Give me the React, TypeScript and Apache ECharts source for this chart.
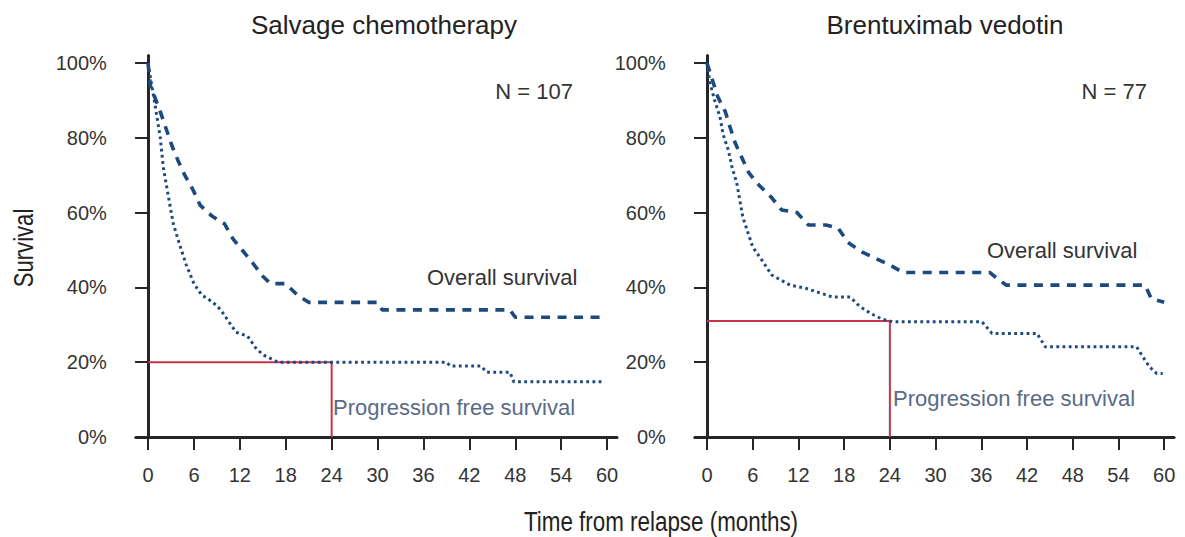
import React, { useEffect, useRef } from "react";
import * as echarts from "echarts";

// ---- data (months, survival %) ----
const xTicks = [0, 6, 12, 18, 24, 30, 36, 42, 48, 54, 60];
const yTicks = [0, 20, 40, 60, 80, 100];

const leftOS: number[][] = [
  [0, 100], [0.3, 94], [1.6, 87], [3.1, 78], [3.9, 74], [4.8, 70], [5.9, 66], [6.8, 62],
  [8.4, 59], [10, 57], [11.1, 53], [12.3, 50], [13.5, 47], [15, 43], [16, 41], [18, 41],
  [19.5, 38], [21, 36], [30, 36], [30.6, 34], [47.3, 34], [48, 32], [60, 32],
];
const leftPFS: number[][] = [
  [0, 100], [0.4, 95], [0.9, 89], [1.6, 80], [2, 72], [2.6, 65], [3.3, 57], [4.2, 51],
  [5, 46], [6, 41], [7, 38], [8.5, 36], [9.5, 34], [10.5, 31], [11.5, 28], [13, 27],
  [14, 24], [15, 22], [16, 21], [17, 20], [39, 20], [39.5, 19], [43.5, 19], [44.3, 17.3],
  [47.3, 17.3], [47.8, 14.8], [59.5, 14.8],
];
const rightOS: number[][] = [
  [0, 100], [0.7, 95.5], [1.4, 91], [2.4, 87], [3, 83], [3.7, 78.6], [4.6, 74.6], [5.5, 70.6],
  [6.8, 67.4], [8.4, 64.2], [9.8, 60.7], [11.8, 60], [13.3, 56.7], [15.6, 56.7], [17.2, 55.9],
  [18.5, 52], [20.3, 49.5], [22, 47.9], [24, 46], [25.7, 44], [37.1, 44], [38.3, 42],
  [39.3, 40.6], [57.5, 40.6], [58.3, 37], [60, 36],
];
const rightPFS: number[][] = [
  [0, 100], [0.4, 94.6], [1, 90], [1.7, 85.6], [2.1, 81], [2.8, 76.7], [3.3, 72], [3.9, 68],
  [4.3, 63.4], [4.7, 58.8], [5.4, 54.5], [6, 50.8], [7.2, 47.3], [8.5, 43.3], [10.9, 40.6],
  [12.9, 39.8], [14.4, 38.8], [16.5, 37.4], [18.8, 37.4], [20, 35], [21.5, 33], [23, 31.5],
  [24.4, 30.8], [36.1, 30.8], [37.4, 27.7], [43.3, 27.7], [44.4, 24.1], [56.4, 24.1],
  [57.2, 21.4], [58.1, 18.7], [59, 17], [59.8, 17],
];
const leftMarker = { month: 24, pfs: 20 };
const rightMarker = { month: 24, pfs: 31 };

const titles = ["Salvage chemotherapy", "Brentuximab vedotin"];
const nLabels = ["N = 107", "N = 77"];

const NAVY = "#1d4a7e";
const RED = "#c4354c";
const AXIS = "#262626";
const SANS = "'Liberation Sans', Arial, Helvetica, sans-serif";

export default function App() {
  const ref = useRef<HTMLDivElement>(null);
  useEffect(() => {
    document.body.style.margin = "0";
    const chart = echarts.init(ref.current!, null, { renderer: "svg" });

    const grids = [
      { left: 135.8, top: 55.5, width: 481.2, height: 381.5 },
      { left: 694.8, top: 55.5, width: 479.3, height: 381.5 },
    ];
    const mkX = (i: number) => ({
      type: "value",
      gridIndex: i,
      min: -1.6,
      max: 61.3,
      axisLine: { onZero: true, lineStyle: { color: AXIS, width: 3 } },
      axisTick: { show: true, customValues: xTicks, length: 13, lineStyle: { color: AXIS, width: 2 } },
      axisLabel: {
        customValues: xTicks,
        margin: 28,
        fontSize: 20,
        fontFamily: SANS,
        color: "#333",
      },
      splitLine: { show: false },
    });
    const mkY = (i: number) => ({
      type: "value",
      gridIndex: i,
      min: 0,
      max: 102,
      axisLine: { show: true, onZero: true, lineStyle: { color: AXIS, width: 3 } },
      axisTick: { show: true, customValues: yTicks.filter((v) => v > 0), length: 13, lineStyle: { color: AXIS, width: 2 } },
      axisLabel: {
        customValues: yTicks,
        margin: 29,
        fontSize: 20,
        fontFamily: SANS,
        color: "#333",
        formatter: (v: number) => `${v}%`,
      },
      splitLine: { show: false },
    });
    const mkLine = (data: number[][], i: number, dotted: boolean) => ({
      type: "line",
      xAxisIndex: i,
      yAxisIndex: i,
      data,
      showSymbol: false,
      symbol: "none",
      silent: true,
      lineStyle: dotted
        ? { color: NAVY, width: 3, type: [2.8, 3.4] }
        : { color: NAVY, width: 3.6, type: [9, 7.5] },
      z: 3,
    });
    const mkMarker = (m: { month: number; pfs: number }, i: number) => ({
      type: "line",
      xAxisIndex: i,
      yAxisIndex: i,
      data: [[0, m.pfs], [m.month, m.pfs], [m.month, 0]],
      showSymbol: false,
      symbol: "none",
      silent: true,
      lineStyle: { color: RED, width: 2 },
      z: 2,
    });

    const txt = (x: number, y: number, text: string, opts: any = {}, extra: any = {}) => ({
      type: "text",
      x,
      y,
      silent: true,
      ...extra,
      style: {
        text,
        fontSize: 22,
        fontFamily: SANS,
        fill: "#333",
        align: "left",
        verticalAlign: "middle",
        ...opts,
      },
    });

    chart.setOption({
      animation: false,
      backgroundColor: "#ffffff",
      grid: grids,
      xAxis: [mkX(0), mkX(1)],
      yAxis: [mkY(0), mkY(1)],
      series: [
        mkMarker(leftMarker, 0),
        mkMarker(rightMarker, 1),
        mkLine(leftOS, 0, false),
        mkLine(leftPFS, 0, true),
        mkLine(rightOS, 1, false),
        mkLine(rightPFS, 1, true),
      ],
      graphic: [
        txt(384, 25, titles[0], { align: "center", fontSize: 26, fill: "#222" }),
        txt(945, 25, titles[1], { align: "center", fontSize: 26, fill: "#222" }),
        txt(573, 91, nLabels[0], { align: "right", fontSize: 22 }),
        txt(1147, 91, nLabels[1], { align: "right", fontSize: 22 }),
        txt(427, 277, "Overall survival"),
        txt(333, 407, "Progression free survival", { fill: "#5a6a86" }),
        txt(987, 250, "Overall survival"),
        txt(893, 398, "Progression free survival", { fill: "#5a6a86" }),
        txt(
          24,
          248,
          "Survival",
          { align: "center", fontSize: 27, fill: "#222" },
          { rotation: Math.PI / 2, scaleX: 0.82 }
        ),
        txt(
          661,
          521,
          "Time from relapse (months)",
          { align: "center", fontSize: 28, fill: "#222" },
          { scaleX: 0.8 }
        ),
      ],
    });
    return () => chart.dispose();
  }, []);
  return (
    <div
      ref={ref}
      style={{ position: "absolute", left: 0, top: 0, width: 1185, height: 537, background: "#fff" }}
    />
  );
}
